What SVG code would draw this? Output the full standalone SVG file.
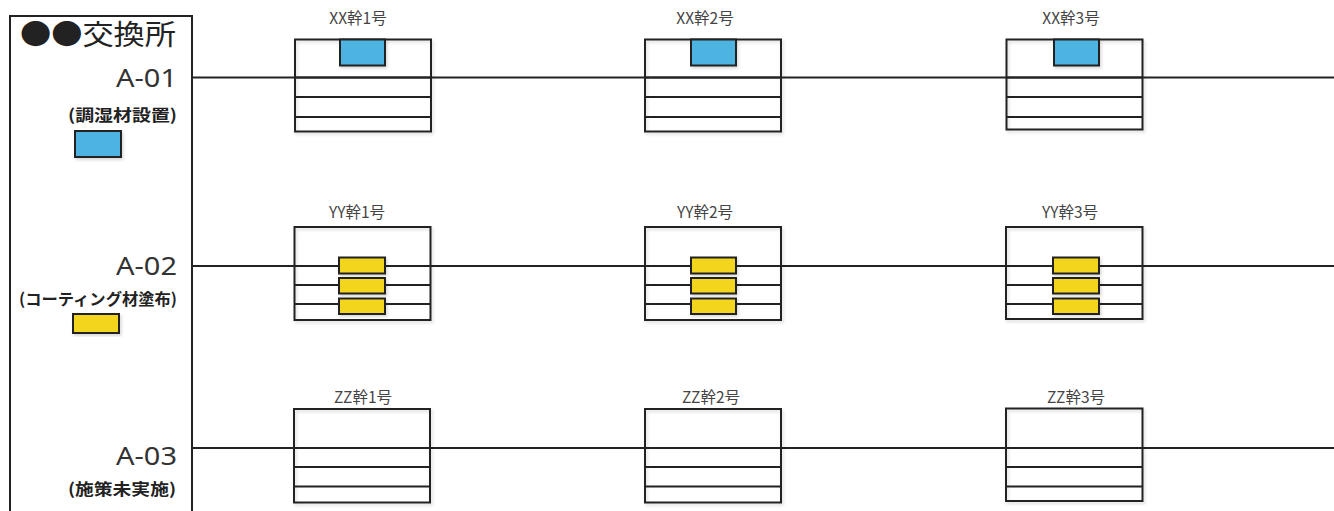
<svg xmlns="http://www.w3.org/2000/svg" width="1334" height="511" viewBox="0 0 1334 511">
<defs>
<style>
.frame{fill:#fff;stroke:#222;stroke-width:2}
.ln{stroke:#222;stroke-width:2;fill:none}
.blue{fill:#4db4e2;stroke:#222;stroke-width:2}
.yel{fill:#f2d51c;stroke:#222;stroke-width:2}
.lbl{font-family:"Noto Sans CJK JP","Noto Sans",sans-serif;font-size:15.5px;fill:#444;text-anchor:middle}
.code{font-family:"Noto Sans","Noto Sans CJK JP",sans-serif;font-size:25px;fill:#333;text-anchor:end}
.sub{font-family:"Noto Sans CJK JP",sans-serif;font-size:16px;font-weight:bold;fill:#222;text-anchor:end}
.title{font-family:"Noto Sans CJK JP",sans-serif;font-size:28px;fill:#222}
</style>
<filter id="sh" x="-10%" y="-10%" width="130%" height="130%">
<feDropShadow dx="1.5" dy="2" stdDeviation="1.5" flood-color="#000" flood-opacity="0.15"/>
</filter>
</defs>
<rect width="1334" height="511" fill="#fff"/>

<g id="panel">
<rect class="frame" x="10" y="16" width="182" height="500"/>
<text class="title" x="20" y="45" textLength="156" lengthAdjust="spacingAndGlyphs">●●交換所</text>
</g>

<g id="connectors">
<line class="ln" x1="192" y1="77.5" x2="1334" y2="77.5"/>
<line class="ln" x1="192" y1="266" x2="1334" y2="266"/>
<line class="ln" x1="192" y1="448" x2="1334" y2="448"/>
</g>

<g id="legend-A01">
<text class="code" x="177" y="87" textLength="61" lengthAdjust="spacingAndGlyphs">A-01</text>
<text class="sub" x="177" y="121" textLength="109" lengthAdjust="spacingAndGlyphs">(調湿材設置)</text>
<rect class="blue" x="75" y="131" width="46" height="26" filter="url(#sh)"/>
</g>
<g id="legend-A02">
<text class="code" x="177" y="275" textLength="61" lengthAdjust="spacingAndGlyphs">A-02</text>
<text class="sub" x="177" y="305" textLength="158" lengthAdjust="spacingAndGlyphs">(コーティング材塗布)</text>
<rect class="yel" x="73" y="314" width="46" height="19" filter="url(#sh)"/>
</g>
<g id="legend-A03">
<text class="code" x="177" y="465" textLength="61" lengthAdjust="spacingAndGlyphs">A-03</text>
<text class="sub" x="176" y="495" textLength="108" lengthAdjust="spacingAndGlyphs">(施策未実施)</text>
</g>

<!-- XX row -->
<g id="xx1">
<text class="lbl" x="358" y="24">XX幹1号</text>
<rect class="frame" x="295" y="39.5" width="136" height="92" fill-opacity="0" filter="url(#sh)"/>
<line class="ln" x1="295" y1="77.5" x2="431" y2="77.5"/>
<line class="ln" x1="295" y1="97" x2="431" y2="97"/>
<line class="ln" x1="295" y1="117" x2="431" y2="117"/>
<rect class="blue" x="340" y="39.5" width="45" height="26" filter="url(#sh)"/>
</g>
<g id="xx2">
<text class="lbl" x="705" y="24">XX幹2号</text>
<rect class="frame" x="645" y="39.5" width="136" height="92" fill-opacity="0" filter="url(#sh)"/>
<line class="ln" x1="645" y1="77.5" x2="781" y2="77.5"/>
<line class="ln" x1="645" y1="97" x2="781" y2="97"/>
<line class="ln" x1="645" y1="117" x2="781" y2="117"/>
<rect class="blue" x="691" y="39.5" width="45" height="26" filter="url(#sh)"/>
</g>
<g id="xx3">
<text class="lbl" x="1071" y="24">XX幹3号</text>
<rect class="frame" x="1006.5" y="39.5" width="136" height="90" fill-opacity="0" filter="url(#sh)"/>
<line class="ln" x1="1006.5" y1="77.5" x2="1142.5" y2="77.5"/>
<line class="ln" x1="1006.5" y1="97" x2="1142.5" y2="97"/>
<line class="ln" x1="1006.5" y1="117" x2="1142.5" y2="117"/>
<rect class="blue" x="1054" y="39.5" width="45" height="26" filter="url(#sh)"/>
</g>

<!-- YY row -->
<g id="yy1">
<text class="lbl" x="357" y="218">YY幹1号</text>
<rect class="frame" x="294.5" y="227" width="136" height="93" fill-opacity="0" filter="url(#sh)"/>
<line class="ln" x1="294.5" y1="266" x2="430.5" y2="266"/>
<line class="ln" x1="294.5" y1="285" x2="430.5" y2="285"/>
<line class="ln" x1="294.5" y1="304" x2="430.5" y2="304"/>
<rect class="yel" x="339" y="257.5" width="46" height="16" filter="url(#sh)"/>
<rect class="yel" x="339" y="278" width="46" height="15.5" filter="url(#sh)"/>
<rect class="yel" x="339" y="298.5" width="46" height="15.5" filter="url(#sh)"/>
</g>
<g id="yy2">
<text class="lbl" x="705" y="218">YY幹2号</text>
<rect class="frame" x="645" y="227" width="136" height="93" fill-opacity="0" filter="url(#sh)"/>
<line class="ln" x1="645" y1="266" x2="781" y2="266"/>
<line class="ln" x1="645" y1="285" x2="781" y2="285"/>
<line class="ln" x1="645" y1="304" x2="781" y2="304"/>
<rect class="yel" x="691" y="257.5" width="45" height="16" filter="url(#sh)"/>
<rect class="yel" x="691" y="278" width="45" height="15.5" filter="url(#sh)"/>
<rect class="yel" x="691" y="298.5" width="45" height="15.5" filter="url(#sh)"/>
</g>
<g id="yy3">
<text class="lbl" x="1070" y="218">YY幹3号</text>
<rect class="frame" x="1006" y="227" width="136.5" height="92" fill-opacity="0" filter="url(#sh)"/>
<line class="ln" x1="1006" y1="266" x2="1142.5" y2="266"/>
<line class="ln" x1="1006" y1="285" x2="1142.5" y2="285"/>
<line class="ln" x1="1006" y1="304" x2="1142.5" y2="304"/>
<rect class="yel" x="1053" y="257.5" width="46" height="16" filter="url(#sh)"/>
<rect class="yel" x="1053" y="278" width="46" height="15.5" filter="url(#sh)"/>
<rect class="yel" x="1053" y="298.5" width="46" height="15.5" filter="url(#sh)"/>
</g>

<!-- ZZ row -->
<g id="zz1">
<text class="lbl" x="363" y="403">ZZ幹1号</text>
<rect class="frame" x="294" y="409" width="136" height="93.5" fill-opacity="0" filter="url(#sh)"/>
<line class="ln" x1="294" y1="448" x2="430" y2="448"/>
<line class="ln" x1="294" y1="467" x2="430" y2="467"/>
<line class="ln" x1="294" y1="486.5" x2="430" y2="486.5"/>
</g>
<g id="zz2">
<text class="lbl" x="711" y="403">ZZ幹2号</text>
<rect class="frame" x="645" y="409" width="136" height="93.5" fill-opacity="0" filter="url(#sh)"/>
<line class="ln" x1="645" y1="448" x2="781" y2="448"/>
<line class="ln" x1="645" y1="467" x2="781" y2="467"/>
<line class="ln" x1="645" y1="486.5" x2="781" y2="486.5"/>
</g>
<g id="zz3">
<text class="lbl" x="1076" y="403">ZZ幹3号</text>
<rect class="frame" x="1006" y="408.5" width="136.5" height="92.5" fill-opacity="0" filter="url(#sh)"/>
<line class="ln" x1="1006" y1="448" x2="1142.5" y2="448"/>
<line class="ln" x1="1006" y1="467" x2="1142.5" y2="467"/>
<line class="ln" x1="1006" y1="486.5" x2="1142.5" y2="486.5"/>
</g>
</svg>
